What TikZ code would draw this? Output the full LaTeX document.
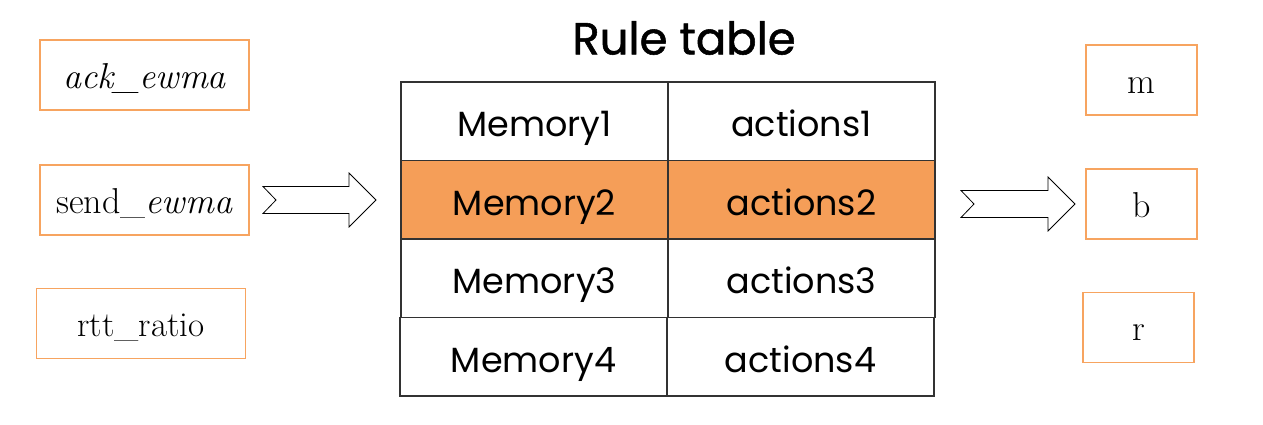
\documentclass[tikz,border=0pt]{standalone}
\usepackage{fontspec}
\newfontfamily\gothic{Poppins}
\newfontfamily\gothictitle[FakeBold=1.2]{Poppins}
\definecolor{boxorange}{RGB}{247,164,96}
\definecolor{rowfill}{RGB}{245,158,88}
\definecolor{tline}{RGB}{50,50,50}
\tikzset{
  inbox/.style={draw=boxorange, line width=1.5pt, minimum width=209pt, minimum height=70pt, inner sep=0pt, text height=30pt, text depth=4pt, font=\fontsize{36}{40}\selectfont},
  outbox/.style={draw=boxorange, line width=1.5pt, minimum width=111pt, minimum height=70pt, inner sep=0pt, text height=30pt, text depth=4pt, font=\fontsize{36}{40}\selectfont},
  cell/.style={draw=tline, line width=1.2pt, minimum width=267pt, minimum height=78.5pt, inner sep=0pt, text height=33pt, text depth=2pt, font=\gothic\fontsize{35}{37}\selectfont},
  blockarrow/.style={draw=black, line width=0.8pt, fill=white, line join=miter},
}
\begin{document}
\begin{tikzpicture}[x=1pt,y=-1pt]
\useasboundingbox (0,0) rectangle (1263,424);
% title
\node[font=\gothictitle\fontsize{45}{48}\selectfont] (title) at (684,38) {Rule table};
% inputs
\node[inbox] (ack) at (144.5,75) {\itshape ack\_ewma};
\node[inbox] (send) at (144.5,200) {send\_\textit{ewma}};
\node[inbox, font=\fontsize{35}{38}\selectfont] (rtt) at (141,323.5) {rtt\_ratio};
% outputs
\node[outbox] (m) at (1141.5,80) {m};
\node[outbox] (b) at (1141.5,204) {b};
\node[outbox] (r) at (1138.5,327.5) {r};
% table
\node[cell] (m1) at (534.5,121.25) {Memory1};
\node[cell] (a1) at (801.5,121.25) {actions1};
\node[cell, fill=rowfill] (m2) at (534.5,199.75) {Memory2};
\node[cell, fill=rowfill] (a2) at (801.5,199.75) {actions2};
\node[cell] (m3) at (534.5,278.25) {Memory3};
\node[cell] (a3) at (801.5,278.25) {actions3};
\node[cell] (m4) at (533.5,356.75) {Memory4};
\node[cell] (a4) at (800.5,356.75) {actions4};
% block arrows
\coordinate (la) at (263,200);
\draw[blockarrow] (la) ++(0,-13.5) -- ++(86,0) -- ++(0,-13.5) -- ++(27,27) -- ++(-27,27) -- ++(0,-13.5) -- ++(-86,0) -- ++(13,-13.5) -- cycle;
\coordinate (ra) at (961,204);
\draw[blockarrow] (ra) ++(0,-13.5) -- ++(87,0) -- ++(0,-13.5) -- ++(27,27) -- ++(-27,27) -- ++(0,-13.5) -- ++(-87,0) -- ++(13,-13.5) -- cycle;
\end{tikzpicture}
\end{document}
